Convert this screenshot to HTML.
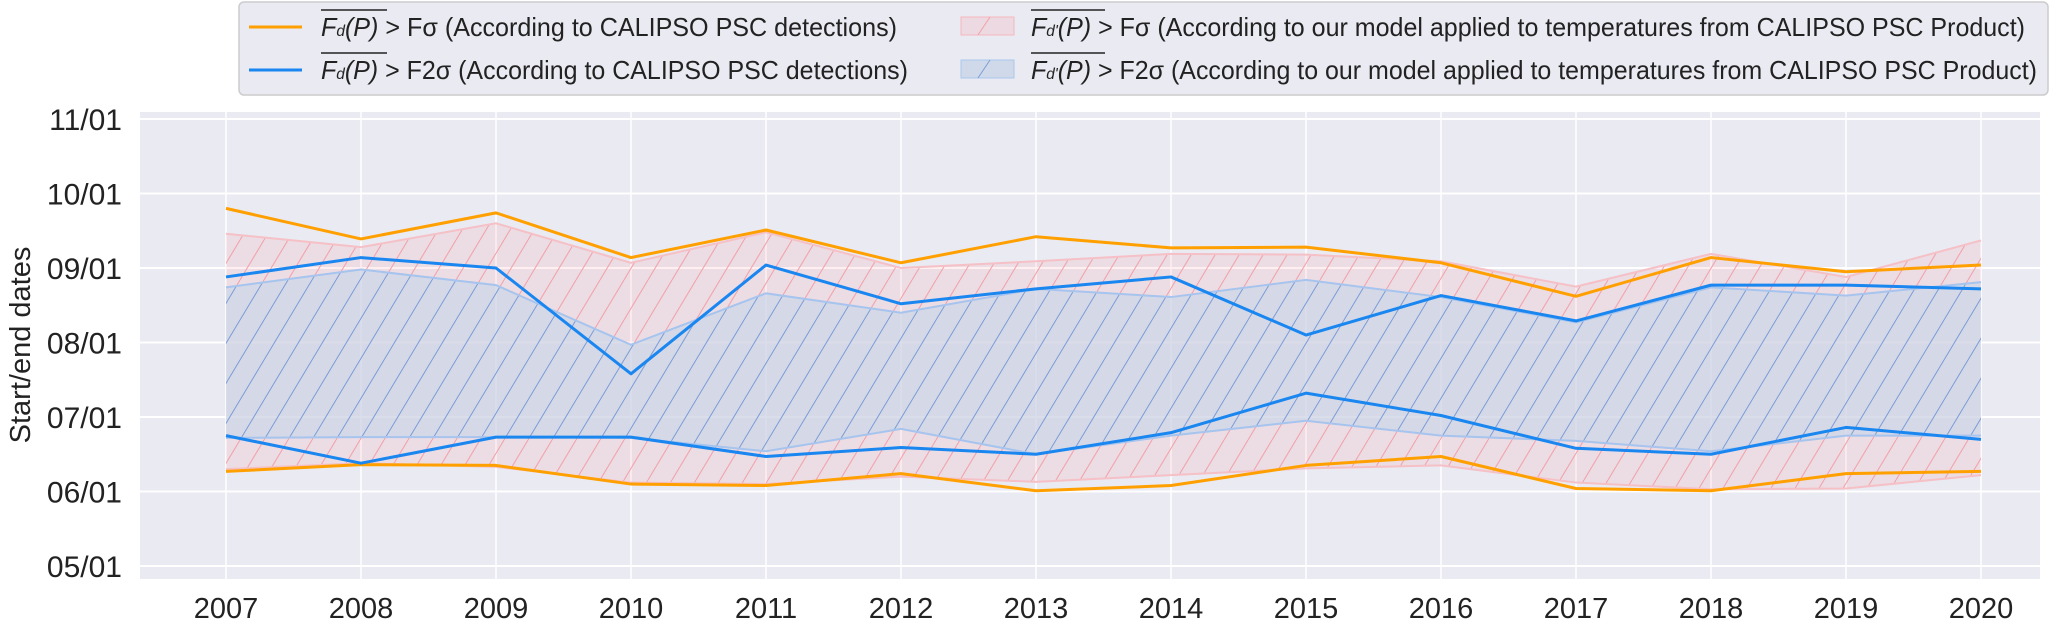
<!DOCTYPE html>
<html><head><meta charset="utf-8"><style>
html,body{margin:0;padding:0;background:#fff;}
svg{display:block;font-family:"Liberation Sans","DejaVu Sans",sans-serif;}
</style></head><body>
<svg id="chart" width="2067" height="621" viewBox="0 0 2067 621">
<defs>
<pattern id="hatchRed" patternUnits="userSpaceOnUse" width="24" height="40"><line x1="0" y1="40" x2="24" y2="0" stroke="#f2a0a8" stroke-width="1"/><line x1="-12" y1="20" x2="0" y2="0" stroke="#f2a0a8" stroke-width="1"/><line x1="24" y1="40" x2="36" y2="20" stroke="#f2a0a8" stroke-width="1"/></pattern>
<pattern id="hatchBlue" patternUnits="userSpaceOnUse" width="24" height="40"><line x1="0" y1="40" x2="24" y2="0" stroke="#7a9fd8" stroke-width="1"/><line x1="-12" y1="20" x2="0" y2="0" stroke="#7a9fd8" stroke-width="1"/><line x1="24" y1="40" x2="36" y2="20" stroke="#7a9fd8" stroke-width="1"/></pattern>
</defs>
<rect x="140" y="112" width="1900" height="467" fill="#eaeaf2"/>
<g id="grid"></g>
<g id="bands"></g>
<g id="lines"></g>
<g id="axes"></g>
<text x="0" y="0" transform="translate(30,345) rotate(-90)" text-anchor="middle" font-size="29" fill="#222">Start/end dates</text>
<g>
<rect x="239" y="2" width="1809" height="93" rx="5" fill="#eaeaf2" stroke="#cccccc" stroke-width="1.5"/>
<g>
<line x1="249" y1="27" x2="302" y2="27" stroke="#ffa000" stroke-width="3"/>
<line x1="321" y1="10" x2="387" y2="10" stroke="#222" stroke-width="1.5"/>
<text x="321" y="36" font-size="26" fill="#222" textLength="576" lengthAdjust="spacingAndGlyphs"><tspan font-style="italic">F<tspan font-size="16">d</tspan>(P)</tspan> &gt; Fσ (According to CALIPSO PSC detections)</text>
</g>
<g>
<line x1="249" y1="70" x2="302" y2="70" stroke="#1a86f0" stroke-width="3"/>
<line x1="321" y1="53" x2="387" y2="53" stroke="#222" stroke-width="1.5"/>
<text x="321" y="79" font-size="26" fill="#222" textLength="587" lengthAdjust="spacingAndGlyphs"><tspan font-style="italic">F<tspan font-size="16">d</tspan>(P)</tspan> &gt; F2σ (According to CALIPSO PSC detections)</text>
</g>
<g>
<rect x="961" y="17" width="53" height="18" fill="rgba(255,120,130,0.15)" stroke="#f5b8bf"/>
<line x1="978" y1="35" x2="990" y2="17" stroke="#f2a0a8"/>
<line x1="1031" y1="10" x2="1105" y2="10" stroke="#222" stroke-width="1.5"/>
<text x="1031" y="36" font-size="26" fill="#222" textLength="994" lengthAdjust="spacingAndGlyphs"><tspan font-style="italic">F<tspan font-size="16">d'</tspan>(P)</tspan> &gt; Fσ (According to our model applied to temperatures from CALIPSO PSC Product)</text>
</g>
<g>
<rect x="961" y="60" width="53" height="18" fill="rgba(205,215,232,0.9)" stroke="#a9c8ef"/>
<line x1="978" y1="78" x2="990" y2="60" stroke="#7a9fd8"/>
<line x1="1031" y1="53" x2="1105" y2="53" stroke="#222" stroke-width="1.5"/>
<text x="1031" y="79" font-size="26" fill="#222" textLength="1006" lengthAdjust="spacingAndGlyphs"><tspan font-style="italic">F<tspan font-size="16">d'</tspan>(P)</tspan> &gt; F2σ (According to our model applied to temperatures from CALIPSO PSC Product)</text>
</g>
</g>
</svg>
<script>
const years = [2007,2008,2009,2010,2011,2012,2013,2014,2015,2016,2017,2018,2019,2020];
const yTicks = [5,6,7,8,9,10,11];
const yTickLabels = ["05/01","06/01","07/01","08/01","09/01","10/01","11/01"];
// month units: 6.0 = June 1
const fdSigmaEnd   = [9.80,9.39,9.74,9.14,9.51,9.07,9.42,9.27,9.28,9.07,8.62,9.14,8.95,9.04];
const fdSigmaStart = [6.27,6.36,6.35,6.10,6.08,6.24,6.01,6.08,6.35,6.47,6.04,6.01,6.24,6.27];
const fd2SigmaEnd  = [8.88,9.14,9.00,7.58,9.04,8.52,8.72,8.88,8.10,8.63,8.29,8.77,8.77,8.72];
const fd2SigmaStart= [6.75,6.38,6.73,6.73,6.47,6.59,6.50,6.79,7.32,7.02,6.58,6.50,6.86,6.70];
const modelSigmaTop    = [9.46,9.28,9.60,9.07,9.48,9.00,9.09,9.19,9.18,9.09,8.75,9.19,8.88,9.37];
const modelSigmaBottom = [6.30,6.38,6.33,6.12,6.10,6.20,6.13,6.22,6.31,6.35,6.12,6.03,6.04,6.22];
const model2SigmaTop    = [8.74,8.98,8.77,7.97,8.66,8.40,8.72,8.61,8.84,8.61,8.27,8.74,8.63,8.81];
const model2SigmaBottom = [6.72,6.73,6.73,6.72,6.54,6.84,6.50,6.75,6.95,6.75,6.68,6.54,6.75,6.75];

const NS="http://www.w3.org/2000/svg";
function xs(i){return 226 + (years[i]-2007)*135;}
function ys(m){return 566 - (m-5)*74.5;}
function mk(tag,attrs,parent){const e=document.createElementNS(NS,tag);for(const k in attrs)e.setAttribute(k,attrs[k]);parent.appendChild(e);return e;}
const grid=document.getElementById('grid'),bands=document.getElementById('bands'),lines=document.getElementById('lines'),axes=document.getElementById('axes');
years.forEach((y,i)=>{
  const l=mk('line',{x1:xs(i),x2:xs(i),y1:112,y2:579,stroke:'#fff','stroke-width':1.5},grid);
  
  
  const t=mk('text',{x:xs(i),y:618,'text-anchor':'middle','font-size':29,fill:'#222'},axes);
  t.textContent=y;
  
  
});
yTicks.forEach((m,i)=>{
  const l=mk('line',{x1:140,x2:2040,y1:ys(m),y2:ys(m),stroke:'#fff','stroke-width':2},grid);
  
  
  const t=mk('text',{x:122,y:ys(m)+11,'text-anchor':'end','font-size':30,fill:'#222'},axes);
  t.textContent=yTickLabels[i];
  
  
});
function bandPath(top,bot){let d='';top.forEach((v,i)=>{d+=(i?'L':'M')+xs(i)+','+ys(v);});for(let i=bot.length-1;i>=0;i--)d+='L'+xs(i)+','+ys(bot[i]);return d+'Z';}
function linePath(v){return v.map((m,i)=>(i?'L':'M')+xs(i)+','+ys(m)).join('');}
function band(top,bot,fill,hatch,edge,name){
  const d=bandPath(top,bot);
  const a=mk('path',{d:d,fill:fill,stroke:'none'},bands);
  
  
  const h=mk('path',{d:d,fill:hatch,stroke:'none'},bands);
  
  
  [top,bot].forEach(s=>{const e=mk('path',{d:linePath(s),fill:'none',stroke:edge,'stroke-width':2},bands);
    
    });
}
band(modelSigmaTop,modelSigmaBottom,'rgba(255,120,130,0.12)','url(#hatchRed)','#f5c0c6','model-fsigma-band');
band(model2SigmaTop,model2SigmaBottom,'rgba(205,215,232,0.75)','url(#hatchBlue)','#a6c4ee','model-f2sigma-band');
function series(v,color,name){
  const p=mk('path',{d:linePath(v),fill:'none',stroke:color,'stroke-width':3,'stroke-linejoin':'round'},lines);
  
  
}
series(fdSigmaEnd,'#ffa000','fd-fsigma-end-line');
series(fdSigmaStart,'#ffa000','fd-fsigma-start-line');
series(fd2SigmaEnd,'#1a86f0','fd-f2sigma-end-line');
series(fd2SigmaStart,'#1a86f0','fd-f2sigma-start-line');
</script>
</body></html>
